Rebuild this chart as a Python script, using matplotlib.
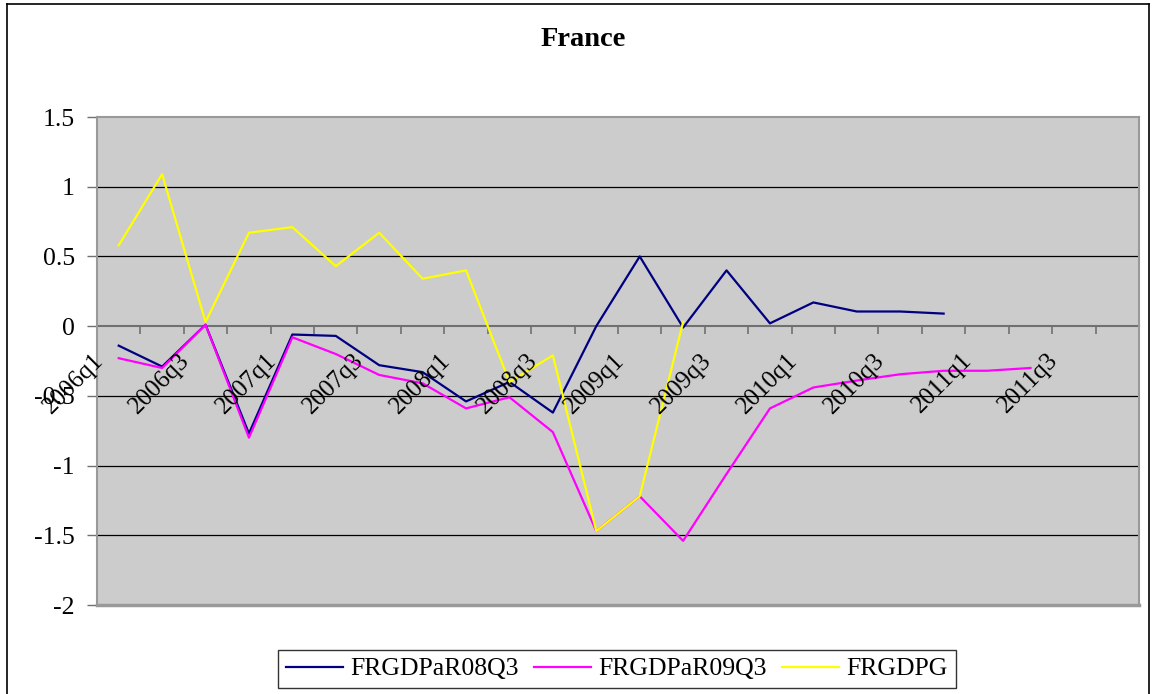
import numpy as np
import matplotlib
matplotlib.use("Agg")
import matplotlib.pyplot as plt
from matplotlib.lines import Line2D

plt.rcParams['font.family'] = ['Liberation Serif', 'DejaVu Serif']

quarters = ["2006q1", "2006q2", "2006q3", "2006q4",
            "2007q1", "2007q2", "2007q3", "2007q4",
            "2008q1", "2008q2", "2008q3", "2008q4",
            "2009q1", "2009q2", "2009q3", "2009q4",
            "2010q1", "2010q2", "2010q3", "2010q4",
            "2011q1", "2011q2", "2011q3", "2011q4"]

r08q3 = [-0.14, -0.29, 0.01, -0.77, -0.06, -0.07, -0.28, -0.33, -0.54, -0.40,
         -0.62, 0.00, 0.50, -0.01, 0.40, 0.02, 0.17, 0.105, 0.105, 0.09]
r09q3 = [-0.23, -0.30, 0.01, -0.80, -0.08, -0.20, -0.35, -0.41, -0.59, -0.51,
         -0.76, -1.47, -1.22, -1.54, -1.06, -0.59, -0.44, -0.39, -0.345, -0.32,
         -0.32, -0.30]
gdpg = [0.58, 1.09, 0.03, 0.67, 0.71, 0.43, 0.67, 0.34, 0.40, -0.40,
        -0.21, -1.47, -1.22, 0.03]

series = [("FRGDPaR08Q3", r08q3, "#000080"),
          ("FRGDPaR09Q3", r09q3, "#FF00FF"),
          ("FRGDPG", gdpg, "#FFFF00")]

W, H = 1153, 694
fig = plt.figure(figsize=(W / 100, H / 100), dpi=100)
ax = fig.add_axes([97 / W, 1 - 605 / H, (1139 - 97) / W, (605 - 117) / H])
ax.set_facecolor("#CCCCCC")

n = len(quarters)
ax.set_xlim(-0.5, n - 0.5)
ax.set_ylim(-2, 1.5)

for y in [-1.5, -1, -0.5, 0.5, 1]:
    ax.axhline(y, color="black", lw=0.9, zorder=1)

for name, vals, col in series:
    ax.plot(np.arange(len(vals)), vals, color=col, lw=1.6, label=name, zorder=3)

for s in ["left", "right", "top"]:
    ax.spines[s].set_color("#999999")
    ax.spines[s].set_linewidth(1.5)
ax.spines["bottom"].set_position(("data", 0))
ax.spines["bottom"].set_color("#707070")
ax.spines["bottom"].set_linewidth(1.5)
ax.spines["bottom"].set_zorder(2)
# frame line at the bottom of the plot area
ax.axhline(-2, color="#999999", lw=2.5, zorder=2, clip_on=False)

ax.set_yticks([-2, -1.5, -1, -0.5, 0, 0.5, 1, 1.5])
ax.set_yticklabels(["-2", "-1.5", "-1", "-0.5", "0", "0.5", "1", "1.5"])
ax.tick_params(axis="y", length=7, width=1, color="#707070", pad=9, labelsize=18.5)

ax.set_xticks(np.arange(-0.5, n, 1.0))
ax.set_xticklabels([])
ax.tick_params(axis="x", length=6, width=1.2, color="#707070", direction="out")

for i in range(0, n, 2):
    ax.annotate(quarters[i], xy=(i, 0), xytext=(-19, -31), textcoords="offset pixels",
                rotation=45, rotation_mode="anchor", ha="right", va="center",
                fontsize=18, zorder=5, annotation_clip=False)

fig.text(0.506, 1 - 40 / H, "France", ha="center", va="center",
         fontsize=20.5, fontweight="bold")

handles = [Line2D([], [], color=c, lw=1.6) for _, _, c in series]
leg = fig.legend(handles, [s[0] for s in series], loc="center",
                 bbox_to_anchor=(617 / W, 1 - 669 / H), ncol=3, fontsize=18.5,
                 frameon=True, fancybox=False, edgecolor="black",
                 handlelength=2.2, handletextpad=0.3, columnspacing=0.6,
                 borderpad=0.3)
leg.get_frame().set_linewidth(1.0)

# outer chart border
fig.add_artist(Line2D([7 / W, 7 / W], [0, 1 - 4 / H], color="black", lw=1.2))
fig.add_artist(Line2D([7 / W, 1149 / W], [1 - 4 / H, 1 - 4 / H], color="black", lw=1.2))
fig.add_artist(Line2D([1149 / W, 1149 / W], [0, 1 - 4 / H], color="black", lw=1.2))

fig.savefig("out.png", dpi=100)
